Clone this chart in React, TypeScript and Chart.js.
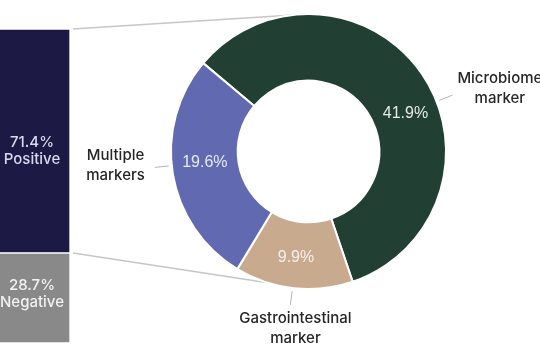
import React, { useEffect, useRef } from "react";
import { Chart, registerables } from "chart.js";

Chart.register(...registerables);

// ---- data ----
const barCategories = ["Negative", "Positive"];
const barValues = [28.7, 71.4];
const sliceCategories = [["Microbiome", "marker"], ["Gastrointestinal", "marker"], ["Multiple", "markers"]];
const sliceValues = [41.9, 9.9, 19.6];

// ---- styles ----
const barColors = ["#898989", "#1c1a45"];
const barTextColors = ["#f2f2f2", "#d9d9ee"];
const barLabelShift = [-4, 10];
const sliceColors = ["#213f33", "#c8ab8f", "#6169b0"];
const sliceTextColors = ["#e6ebe8", "#f6efe8", "#e8e9f6"];
const sliceLabelAngleShift = [13, 0.5, 3.5]; // degrees
const sliceLabelRadialShift = [0, 3, 0];
const outerSide = [1, 0, -1]; // right of leader, below leader, left of leader
const outerDy = [-7, 24, -2];

const BAR_LEFT = -6;
const BAR_TOP = 29;
const BAR_W = 76;
const BAR_H = 314;
const LABEL_FONT = "500 15px Inter, 'Open Sans', sans-serif";

export default function App() {
  const barRef = useRef<HTMLCanvasElement>(null);
  const pieRef = useRef<HTMLCanvasElement>(null);

  useEffect(() => {
    const barChart = new Chart(barRef.current!, {
      type: "bar",
      data: {
        labels: ["Tested"],
        datasets: barCategories.map((c, i) => ({
          label: c,
          data: [barValues[i]],
          backgroundColor: barColors[i],
          borderColor: "#ffffff",
          borderWidth: 1,
          borderSkipped: false,
          barPercentage: 1,
          categoryPercentage: 1,
        })),
      },
      options: {
        responsive: false,
        animation: false,
        events: [],
        layout: { padding: 0 },
        scales: {
          x: { display: false, stacked: true },
          y: { display: false, stacked: true, min: 0, max: barValues[0] + barValues[1] },
        },
        plugins: { legend: { display: false }, tooltip: { enabled: false } },
      },
      plugins: [
        {
          id: "barLabels",
          afterDatasetsDraw(chart: any) {
            const ctx = chart.ctx;
            chart.data.datasets.forEach((_ds: any, i: number) => {
              const el: any = chart.getDatasetMeta(i).data[0];
              const cy = (el.y + el.base) / 2 + barLabelShift[i];
              ctx.save();
              ctx.fillStyle = barTextColors[i];
              ctx.font = LABEL_FONT;
              ctx.textAlign = "center";
              ctx.textBaseline = "middle";
              ctx.fillText(barValues[i].toFixed(1) + "%", el.x, cy - 8.5);
              ctx.fillText(barCategories[i], el.x, cy + 8.5);
              ctx.restore();
            });
          },
        },
      ],
    } as any);

    const pieChart = new Chart(pieRef.current!, {
      type: "doughnut",
      data: {
        labels: sliceCategories.map((c) => c.join(" ")),
        datasets: [
          {
            data: sliceValues,
            backgroundColor: sliceColors,
            borderColor: "#ffffff",
            borderWidth: 2,
            hoverOffset: 0,
          },
        ],
      },
      options: {
        responsive: false,
        animation: false,
        events: [],
        cutout: "51.5%",
        rotation: -50,
        layout: { padding: { left: 170, top: 13, right: 93, bottom: 70 } },
        plugins: { legend: { display: false }, tooltip: { enabled: false } },
      },
      plugins: [
        {
          id: "connectors",
          beforeDatasetsDraw(chart: any) {
            const ctx = chart.ctx;
            const arc: any = chart.getDatasetMeta(0).data[0];
            const cx = arc.x;
            const cy = arc.y;
            const r = arc.outerRadius;
            const pos: any = barChart.getDatasetMeta(1).data[0];
            const bx = BAR_LEFT + pos.x + pos.width / 2 + 3;
            ctx.save();
            ctx.strokeStyle = "#c6c6c6";
            ctx.lineWidth = 1.5;
            ctx.beginPath();
            ctx.moveTo(bx, BAR_TOP + pos.y);
            ctx.lineTo(cx, cy - r);
            ctx.moveTo(bx, BAR_TOP + pos.base);
            ctx.lineTo(cx, cy + r);
            ctx.stroke();
            ctx.restore();
          },
          afterDatasetsDraw(chart: any) {
            const ctx = chart.ctx;
            const meta = chart.getDatasetMeta(0);
            meta.data.forEach((el: any, i: number) => {
              const { x, y, startAngle, endAngle, innerRadius, outerRadius } = el.getProps(
                ["x", "y", "startAngle", "endAngle", "innerRadius", "outerRadius"],
                true
              );
              const a = (startAngle + endAngle) / 2 + (sliceLabelAngleShift[i] * Math.PI) / 180;
              const rm = (innerRadius + outerRadius) / 2 + sliceLabelRadialShift[i];
              ctx.save();
              ctx.font = `16px 'Liberation Sans', Arial, sans-serif`;
              ctx.fillStyle = sliceTextColors[i];
              ctx.textAlign = "center";
              ctx.textBaseline = "middle";
              ctx.fillText(sliceValues[i].toFixed(1) + "%", x + rm * Math.cos(a), y + rm * Math.sin(a));
              // leader line
              const r1 = outerRadius + 3;
              const r2 = outerRadius + 17;
              const ex = x + r2 * Math.cos(a);
              const ey = y + r2 * Math.sin(a);
              ctx.strokeStyle = "#b4b4b4";
              ctx.lineWidth = 1;
              ctx.beginPath();
              ctx.moveTo(x + r1 * Math.cos(a), y + r1 * Math.sin(a));
              ctx.lineTo(ex, ey);
              ctx.stroke();
              // category text (centred block)
              const lines = sliceCategories[i];
              const lh = 20;
              ctx.font = LABEL_FONT;
              const maxW = Math.max(...lines.map((ln) => ctx.measureText(ln).width));
              let tx = ex + 5;
              if (outerSide[i] > 0) tx = ex + 5 + maxW / 2;
              else if (outerSide[i] < 0) tx = ex - 10 - maxW / 2;
              const tcy = ey + outerDy[i];
              ctx.fillStyle = "#262626";
              ctx.textAlign = "center";
              lines.forEach((ln, k) => {
                ctx.fillText(ln, tx, tcy + (k - (lines.length - 1) / 2) * lh);
              });
              ctx.restore();
            });
          },
        },
      ],
    } as any);

    return () => {
      pieChart.destroy();
      barChart.destroy();
    };
  }, []);

  return (
    <div
      style={{
        position: "fixed",
        left: 0,
        top: 0,
        width: 540,
        height: 360,
        overflow: "hidden",
        background: "#ffffff",
      }}
    >
      <canvas
        ref={barRef}
        width={BAR_W}
        height={BAR_H}
        style={{ position: "absolute", left: BAR_LEFT, top: BAR_TOP, width: BAR_W, height: BAR_H }}
      />
      <canvas
        ref={pieRef}
        width={540}
        height={360}
        style={{ position: "absolute", left: 0, top: 0, width: 540, height: 360 }}
      />
    </div>
  );
}
